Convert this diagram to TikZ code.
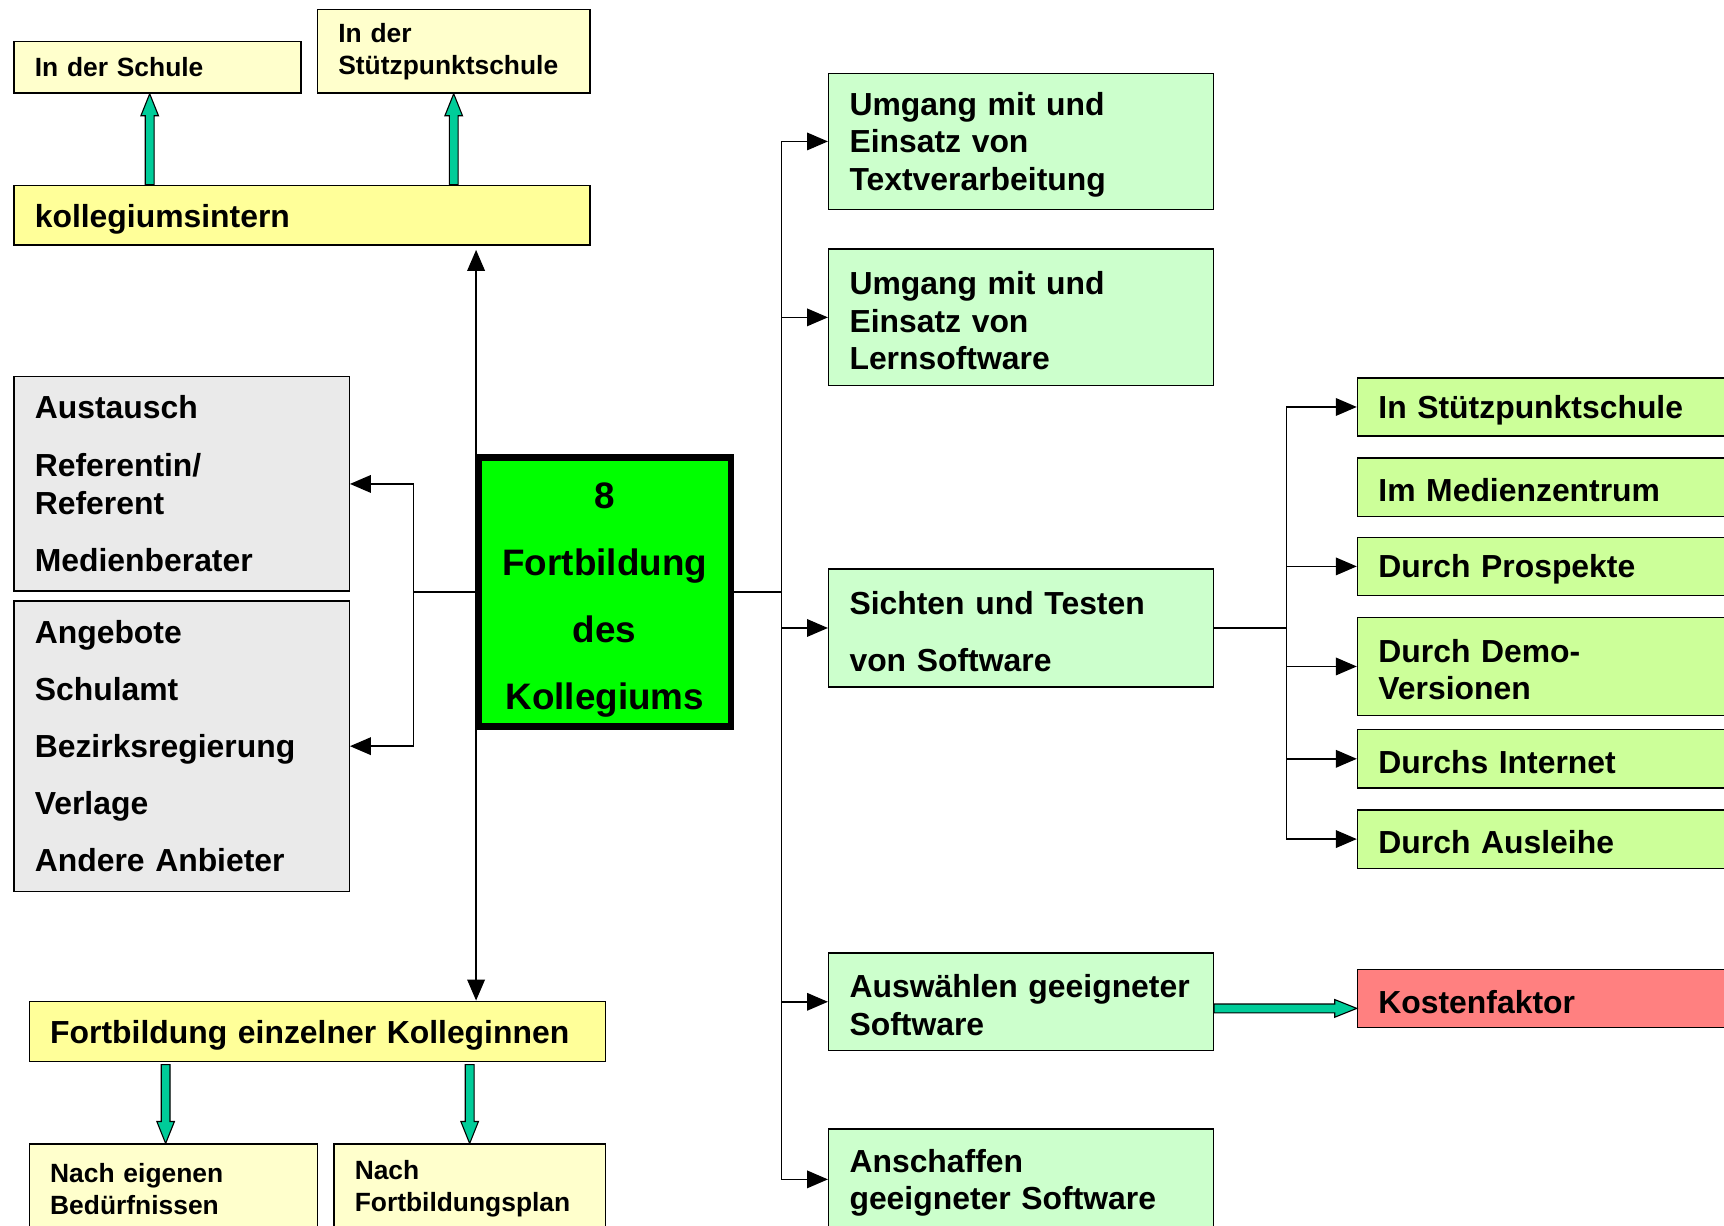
\documentclass[tikz,border=0pt]{standalone}
\usepackage{fontspec}
\setmainfont{Liberation Sans}
\usetikzlibrary{arrows.meta}
\usetikzlibrary{positioning}
\usetikzlibrary{calc}
\definecolor{paleYellow}{RGB}{255,255,204}
\definecolor{strongYellow}{RGB}{255,255,153}
\definecolor{boxGray}{RGB}{234,234,234}
\definecolor{mainGreen}{RGB}{0,255,0}
\definecolor{paleGreen}{RGB}{204,255,204}
\definecolor{limeGreen}{RGB}{204,255,153}
\definecolor{costRed}{RGB}{255,128,128}
\definecolor{arrowTeal}{RGB}{0,204,153}

% broad teal arrow from #1 to #2
\newcommand{\tealarrow}[2]{%
  \coordinate (ta-h) at ($(#2)!20pt!(#1)$);
  \draw[teal arrow] ($(#1)!4pt!90:(#2)$) -- ($(ta-h)!4pt!-90:(#1)$)
    -- ($(ta-h)!8pt!-90:(#1)$) -- (#2) -- ($(ta-h)!8pt!90:(#1)$)
    -- ($(ta-h)!4pt!90:(#1)$) -- ($(#1)!4pt!-90:(#2)$) -- cycle;}

\begin{document}
\begin{tikzpicture}[x=1pt,y=-1pt,line width=1.3pt,
  >={Triangle[length=19pt,width=16pt]},
  conn/.style={->,line width=1.3pt},
  teal arrow/.style={draw=black,fill=arrowTeal,line width=1pt},
  box/.style={draw,anchor=north west,align=left,inner xsep=19pt,inner ysep=0pt,
  font=\bfseries\fontsize{29}{34}\selectfont},
  small box/.style={box,fill=paleYellow,font=\bfseries\fontsize{24}{29}\selectfont},
  yellow box/.style={box,fill=strongYellow,execute at begin node=\rule{0pt}{28pt}},
  gray box/.style={box,fill=boxGray,font=\bfseries\fontsize{29}{35}\selectfont},
  green box/.style={box,fill=paleGreen,text width=312pt,execute at begin node=\rule{0pt}{27pt}},
  lime box/.style={box,fill=limeGreen,text width=322pt,minimum height=53pt,
  execute at begin node=\rule{0pt}{27pt}},
  main box/.style={draw,line width=6pt,fill=mainGreen,anchor=north west,inner sep=0pt,
  text width=230pt,minimum height=245pt,align=center,
  font=\bfseries\fontsize{33.5}{61}\selectfont,execute at begin node=\rule{0pt}{38pt}}]
\path[use as bounding box,fill=white] (0,0) rectangle (1568,1115);
\clip (0,0) rectangle (1568,1115);
%------------------------------------------------------------------------
% The centre and the left side
%------------------------------------------------------------------------
\node[main box] (main) at (432,413) {8\\Fortbildung\\des\\Kollegiums};
\node[small box,text width=223pt,minimum height=47pt] (schule) at (12,37) {In der Schule};
\node[small box,text width=210pt,minimum height=76pt] (stuetz) at (288,8) {In der\\Stützpunktschule};
\node[yellow box,text width=486pt,minimum height=54pt] (kolleg) at (12,168) {kollegiumsintern};
\node[gray box,text width=267pt,minimum height=195pt] (gray1) at (12,342)
  {Austausch\\[17pt]Referentin/\\Referent\\[17pt]Medienberater};
\node[gray box,text width=267pt,minimum height=264pt] (gray2) at (12,546)
  {Angebote\\[17pt]Schulamt\\[17pt]Bezirksregierung\\[17pt]Verlage\\[17pt]Andere Anbieter};
\node[yellow box,text width=486pt,minimum height=55pt] (einzeln) at (26,910) {Fortbildung einzelner Kolleginnen};
\node[small box,text width=224pt,minimum height=81pt] (eigen) at (26,1040) {Nach eigenen\\Bedürfnissen};
\node[small box,text width=209pt,minimum height=81pt] (plan) at (303,1040) {Nach\\Fortbildungsplan};
%------------------------------------------------------------------------
% The right side
%------------------------------------------------------------------------
\node[green box,minimum height=124pt] (textv) at (753,66) {Umgang mit und\\Einsatz von\\Textverarbeitung};
\node[green box,minimum height=124pt] (lernsw) at (753,226) {Umgang mit und\\Einsatz von\\Lernsoftware};
\node[green box,minimum height=107pt] (sichten) at (753,517) {Sichten und Testen\\[18pt]von Software};
\node[green box,minimum height=89pt] (auswahl) at (753,866) {Auswählen geeigneter\\Software};
\node[green box,minimum height=92pt] (anschaff) at (753,1026) {Anschaffen\\geeigneter Software};
\node[lime box] (r1) at (1234,343) {In Stützpunktschule};
\node[lime box,anchor=north] (r2) [below=18.7pt of r1] {Im Medienzentrum};
\node[lime box,anchor=north] (r3) [below=17.7pt of r2] {Durch Prospekte};
\node[lime box,anchor=north,minimum height=89pt] (r4) [below=18.7pt of r3] {Durch Demo-\\Versionen};
\node[lime box,anchor=north] (r5) [below=11.7pt of r4] {Durchs Internet};
\node[lime box,anchor=north] (r6) [below=18.7pt of r5] {Durch Ausleihe};
\node[lime box,fill=costRed] (kosten) at (1234,881) {Kostenfaktor};
%------------------------------------------------------------------------
% The connections
%------------------------------------------------------------------------
\coordinate (mt) at ([xshift=1pt]main.north west);
\coordinate (mb) at ([xshift=1pt]main.south west);
\draw[conn,shorten >=4pt] (mt) -- (mt |- kolleg.south);
\draw[conn] (mb) -- (mb |- einzeln.north);
\draw[conn] (main.west) -- ++(-56,0) |- (gray1.east);
\draw[conn] (main.west) -- ++(-56,0) |- (gray2.east);
\draw (main.east) -- ++(43,0) coordinate (mr);
\draw[conn] (mr) |- (textv.west);
\draw[conn] (mr) |- (lernsw.west);
\draw[conn] (mr) |- (sichten.west);
\draw[conn] (mr) |- (auswahl.west);
\draw[conn] (mr) |- (anschaff.west);
\draw[line width=2pt] (sichten.east) -- ++(66,0) coordinate (sr);
\draw[conn] (sr) |- (r1.west);
\draw[conn] (sr) |- (r3.west);
\draw[conn] (sr) |- (r4.west);
\draw[conn] (sr) |- (r5.west);
\draw[conn] (sr) |- (r6.west);
% teal arrows
\coordinate (s1) at ([xshift=-7pt]schule.south);
\coordinate (k1) at (kolleg.north -| s1);
\tealarrow{k1}{s1}
\coordinate (s2) at (stuetz.south);
\coordinate (k2) at (kolleg.north -| s2);
\tealarrow{k2}{s2}
\coordinate (e1) at ([xshift=-7pt]eigen.north);
\coordinate (f1) at ([yshift=-2pt]einzeln.south -| e1);
\tealarrow{f1}{e1}
\coordinate (e2) at (plan.north);
\coordinate (f2) at ([yshift=-2pt]einzeln.south -| e2);
\tealarrow{f2}{e2}
\coordinate (a1) at ([yshift=-6pt]auswahl.east);
\coordinate (c1) at (kosten.west |- a1);
\tealarrow{a1}{c1}
\end{tikzpicture}
\end{document}
